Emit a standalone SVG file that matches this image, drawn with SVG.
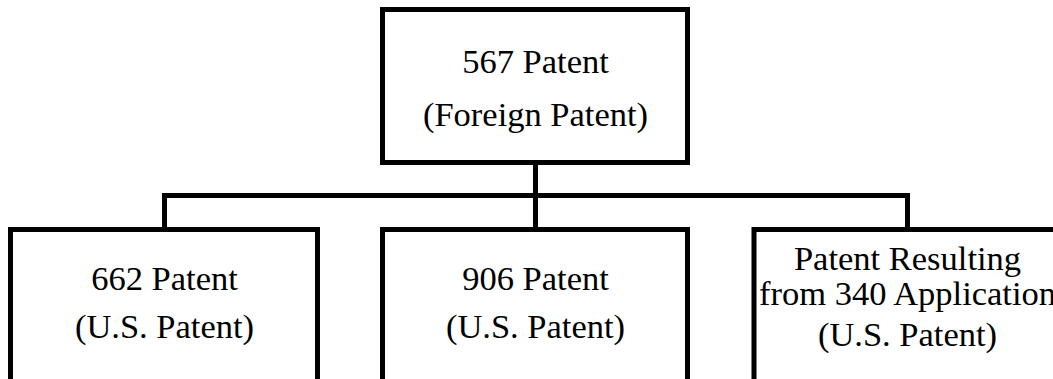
<svg xmlns="http://www.w3.org/2000/svg" width="1053" height="379" viewBox="0 0 1053 379">
  <style>
    .box { fill: #ffffff; stroke: #000000; stroke-width: 5; }
    .wire { fill: none; stroke: #000000; stroke-width: 5; stroke-linejoin: miter; stroke-linecap: square; }
    .label { font-family: "Liberation Serif", "Times New Roman", serif; font-size: 34.5px; fill: #000000; text-anchor: middle; }
  </style>
  <rect x="0" y="0" width="1053" height="379" fill="#ffffff"/>

  <!-- tree connectors -->
  <g id="connectors">
    <path class="wire" d="M535.5,165 V195.5"/>
    <path class="wire" d="M164.5,229 V195.5 H907.5 V229"/>
    <path class="wire" d="M535.5,195.5 V229"/>
  </g>

  <g id="node-567">
    <rect class="box" x="382.5" y="9.5" width="305" height="153"/>
    <text class="label" x="535.5" y="73">567 Patent</text>
    <text class="label" x="535.5" y="126">(Foreign Patent)</text>
  </g>

  <g id="node-662">
    <rect class="box" x="10.5" y="229.5" width="307" height="160"/>
    <text class="label" x="164.5" y="289.5">662 Patent</text>
    <text class="label" x="164.5" y="337.5">(U.S. Patent)</text>
  </g>

  <g id="node-906">
    <rect class="box" x="382.5" y="229.5" width="305" height="160"/>
    <text class="label" x="535.5" y="289.5">906 Patent</text>
    <text class="label" x="535.5" y="337.5">(U.S. Patent)</text>
  </g>

  <g id="node-340">
    <rect class="box" x="754" y="229.5" width="307" height="160"/>
    <text class="label" x="907.5" y="270">Patent Resulting</text>
    <text class="label" x="907.5" y="305">from 340 Application</text>
    <text class="label" x="907.5" y="346">(U.S. Patent)</text>
  </g>
</svg>
